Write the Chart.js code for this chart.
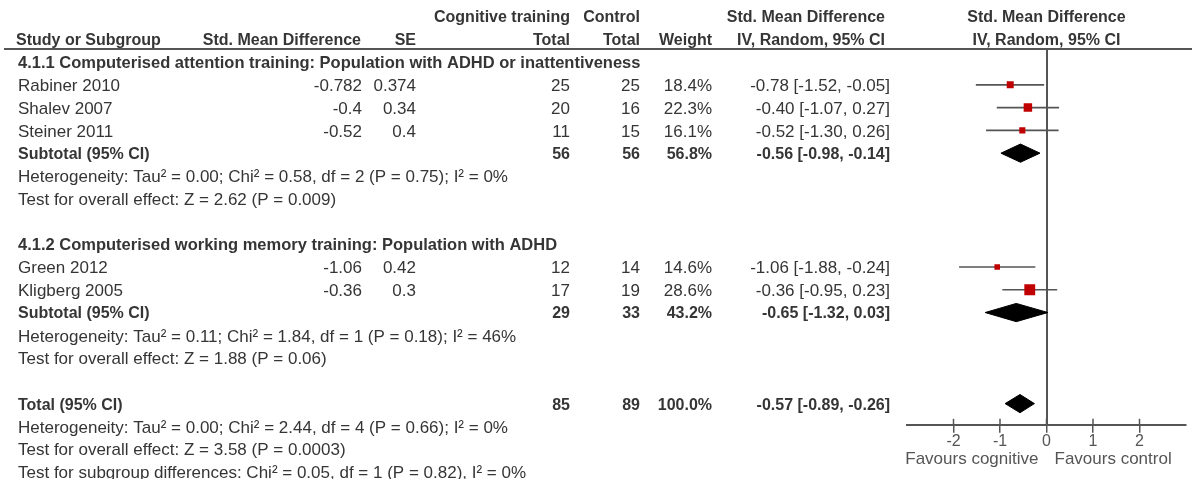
<!DOCTYPE html>
<html>
<head>
<meta charset="utf-8">
<title>Forest plot</title>
<script src="https://cdn.jsdelivr.net/npm/chart.js@4.4.1/dist/chart.umd.min.js"></script>
<style>
  html, body { margin: 0; padding: 0; background: #fff; }
  #wrap { width: 1204px; height: 479px; }
</style>
</head>
<body>
<div id="wrap"><canvas id="forest" width="1204" height="479"></canvas></div>
<script>
// Individual studies
const studies = ['Rabiner 2010', 'Shalev 2007', 'Steiner 2011', 'Green 2012', 'Kligberg 2005'];
const studyRows = [1, 2, 3, 9, 10];
const smd = [-0.782, -0.4, -0.52, -1.06, -0.36];
const se = [0.374, 0.34, 0.4, 0.42, 0.3];
const trainTotal = [25, 20, 11, 12, 17];
const controlTotal = [25, 16, 15, 14, 19];
const weight = [18.4, 22.3, 16.1, 14.6, 28.6];
const estimate = [-0.78, -0.40, -0.52, -1.06, -0.36];
const ciLow = [-1.52, -1.07, -1.30, -1.88, -0.95];
const ciHigh = [-0.05, 0.27, 0.26, -0.24, 0.23];

// Pooled results (two subgroups + overall)
const pooledLabels = ['Subtotal (95% CI)', 'Subtotal (95% CI)', 'Total (95% CI)'];
const pooledRows = [4, 11, 15];
const pooledTrain = [56, 29, 85];
const pooledControl = [56, 33, 89];
const pooledWeight = [56.8, 43.2, 100.0];
const pooledEst = [-0.56, -0.65, -0.57];
const pooledLow = [-0.98, -1.32, -0.89];
const pooledHigh = [-0.14, 0.03, -0.26];

// Subgroup headings and statistics lines
const headingRows = [0, 8];
const headings = [
  '4.1.1 Computerised attention training: Population with ADHD or inattentiveness',
  '4.1.2 Computerised working memory training: Population with ADHD'
];
const noteRows = [5, 6, 12, 13, 16, 17, 18];
const notes = [
  'Heterogeneity: Tau\u00b2 = 0.00; Chi\u00b2 = 0.58, df = 2 (P = 0.75); I\u00b2 = 0%',
  'Test for overall effect: Z = 2.62 (P = 0.009)',
  'Heterogeneity: Tau\u00b2 = 0.11; Chi\u00b2 = 1.84, df = 1 (P = 0.18); I\u00b2 = 46%',
  'Test for overall effect: Z = 1.88 (P = 0.06)',
  'Heterogeneity: Tau\u00b2 = 0.00; Chi\u00b2 = 2.44, df = 4 (P = 0.66); I\u00b2 = 0%',
  'Test for overall effect: Z = 3.58 (P = 0.0003)',
  'Test for subgroup differences: Chi\u00b2 = 0.05, df = 1 (P = 0.82), I\u00b2 = 0%'
];

const xTicks = [-2, -1, 0, 1, 2];
const xMin = -3, xMax = 3;
const rowMin = -0.53, rowMax = 15.93;

const FONT = '"Liberation Sans", Arial, sans-serif';
const TEXT = '#353535';
const GREY = '#555555';
const RED = '#c00000';
const DIAMOND_HALF = 0.4;

const fmt2 = v => v.toFixed(2);
const ciText = (e, l, h) => fmt2(e) + ' [' + fmt2(l) + ', ' + fmt2(h) + ']';

// CI whiskers, one line per study
const ciSets = studies.map((s, i) => ({
  label: s,
  data: [{ x: ciLow[i], y: studyRows[i] }, { x: ciHigh[i], y: studyRows[i] }],
  showLine: true,
  borderColor: GREY,
  borderWidth: 1.6,
  pointRadius: 0,
  order: 2
}));

// Diamonds for pooled estimates
const diamondSets = pooledRows.map((r, i) => ({
  label: pooledLabels[i],
  data: [
    { x: pooledLow[i], y: r },
    { x: pooledEst[i], y: r - DIAMOND_HALF },
    { x: pooledHigh[i], y: r },
    { x: pooledEst[i], y: r + DIAMOND_HALF },
    { x: pooledLow[i], y: r }
  ],
  showLine: true,
  fill: 'shape',
  borderColor: '#000',
  backgroundColor: '#000',
  borderWidth: 1,
  pointRadius: 0,
  tension: 0,
  order: 0
}));

// Study squares sized by weight
const markerSet = {
  label: 'Study estimate',
  data: studies.map((s, i) => ({ x: estimate[i], y: studyRows[i] })),
  pointStyle: 'rect',
  pointRadius: weight.map(w => 0.38 * w / Math.SQRT2),
  backgroundColor: RED,
  borderColor: RED,
  borderWidth: 0,
  order: 0
};

// Table columns: [x, align]
const cols = {
  name: [18, 'left'],
  smd: [362, 'right'],
  se: [416, 'right'],
  train: [570, 'right'],
  control: [640, 'right'],
  weight: [712, 'right'],
  ci: [890, 'right']
};

// font sizes: body text, column headers, subgroup headings
const SIZE_BODY = 17, SIZE_HEAD = 16, SIZE_GROUP = 16.5;

function txt(ctx, s, x, y, align, bold, size, color) {
  ctx.font = (bold ? 'bold ' : '') + (size || SIZE_BODY) + 'px ' + FONT;
  ctx.textAlign = align;
  ctx.textBaseline = 'middle';
  ctx.fillStyle = color || TEXT;
  ctx.fillText(s, x, y);
}

const tablePlugin = {
  id: 'forestTable',
  beforeDraw(chart) {
    const ctx = chart.ctx;
    ctx.save();
    ctx.fillStyle = '#fff';
    ctx.fillRect(0, 0, chart.width, chart.height);
    ctx.restore();
  },
  afterDraw(chart) {
    const ctx = chart.ctx;
    const y = chart.scales.y;
    const x = chart.scales.x;
    const area = chart.chartArea;
    const rowY = r => y.getPixelForValue(r) + 1.5;
    const zeroX = x.getPixelForValue(0);
    ctx.save();

    // column headers
    const h1 = rowY(-2), h2 = rowY(-1);
    const H = SIZE_HEAD;
    txt(ctx, 'Cognitive training', cols.train[0], h1, 'right', true, H);
    txt(ctx, 'Control', cols.control[0], h1, 'right', true, H);
    txt(ctx, 'Std. Mean Difference', cols.ci[0] - 5, h1, 'right', true, H);
    txt(ctx, 'Std. Mean Difference', zeroX, h1, 'center', true, H);
    txt(ctx, 'Study or Subgroup', 16, h2, 'left', true, H);
    txt(ctx, 'Std. Mean Difference', cols.smd[0] - 1, h2, 'right', true, H);
    txt(ctx, 'SE', cols.se[0], h2, 'right', true, H);
    txt(ctx, 'Total', cols.train[0], h2, 'right', true, H);
    txt(ctx, 'Total', cols.control[0], h2, 'right', true, H);
    txt(ctx, 'Weight', cols.weight[0], h2, 'right', true, H);
    txt(ctx, 'IV, Random, 95% CI', cols.ci[0] - 5, h2, 'right', true, H);
    txt(ctx, 'IV, Random, 95% CI', zeroX, h2, 'center', true, H);

    // rule under the headers
    ctx.strokeStyle = GREY;
    ctx.lineWidth = 2;
    ctx.beginPath();
    ctx.moveTo(4, area.top - 1);
    ctx.lineTo(1192, area.top - 1);
    ctx.stroke();

    headings.forEach((h, i) => txt(ctx, h, cols.name[0], rowY(headingRows[i]), 'left', true, SIZE_GROUP));

    studies.forEach((s, i) => {
      const ry = rowY(studyRows[i]);
      txt(ctx, s, cols.name[0], ry, 'left');
      txt(ctx, String(smd[i]), cols.smd[0], ry, 'right');
      txt(ctx, String(se[i]), cols.se[0], ry, 'right');
      txt(ctx, String(trainTotal[i]), cols.train[0], ry, 'right');
      txt(ctx, String(controlTotal[i]), cols.control[0], ry, 'right');
      txt(ctx, weight[i].toFixed(1) + '%', cols.weight[0], ry, 'right');
      txt(ctx, ciText(estimate[i], ciLow[i], ciHigh[i]), cols.ci[0], ry, 'right');
    });

    pooledLabels.forEach((s, i) => {
      const ry = rowY(pooledRows[i]);
      txt(ctx, s, cols.name[0], ry, 'left', true, H);
      txt(ctx, String(pooledTrain[i]), cols.train[0], ry, 'right', true, H);
      txt(ctx, String(pooledControl[i]), cols.control[0], ry, 'right', true, H);
      txt(ctx, pooledWeight[i].toFixed(1) + '%', cols.weight[0], ry, 'right', true, H);
      txt(ctx, ciText(pooledEst[i], pooledLow[i], pooledHigh[i]), cols.ci[0], ry, 'right', true, H);
    });

    notes.forEach((n, i) => txt(ctx, n, cols.name[0], rowY(noteRows[i]), 'left'));

    // tick marks cross the axis line
    ctx.strokeStyle = GREY;
    ctx.lineWidth = 1.5;
    x.ticks.forEach(t => {
      const px = x.getPixelForValue(t.value);
      ctx.beginPath();
      ctx.moveTo(px, area.bottom - 6);
      ctx.lineTo(px, area.bottom);
      ctx.stroke();
    });

    // direction labels under the axis
    const fy = area.bottom + 35;
    txt(ctx, 'Favours cognitive', zeroX - 8, fy, 'right', false, SIZE_BODY, GREY);
    txt(ctx, 'Favours control', zeroX + 8, fy, 'left', false, SIZE_BODY, GREY);
    ctx.restore();
  }
};

new Chart(document.getElementById('forest'), {
  type: 'scatter',
  data: { datasets: [markerSet, ...diamondSets, ...ciSets] },
  options: {
    responsive: false,
    animation: false,
    layout: { padding: { left: 907, right: 18, top: 50, bottom: 29 } },
    plugins: { legend: { display: false }, tooltip: { enabled: false } },
    scales: {
      x: {
        type: 'linear',
        min: xMin,
        max: xMax,
        afterBuildTicks: axis => { axis.ticks = xTicks.map(v => ({ value: v })); },
        grid: { drawOnChartArea: false, tickLength: 8, color: GREY, lineWidth: 1.5 },
        border: { color: GREY, width: 2 },
        ticks: { color: GREY, font: { family: FONT, size: 16 }, padding: -1 }
      },
      y: {
        type: 'linear',
        reverse: true,
        min: rowMin,
        max: rowMax,
        position: { x: 0 },
        grid: { display: false },
        border: { color: GREY, width: 2 },
        ticks: { display: false }
      }
    }
  },
  plugins: [tablePlugin]
});
</script>
</body>
</html>
